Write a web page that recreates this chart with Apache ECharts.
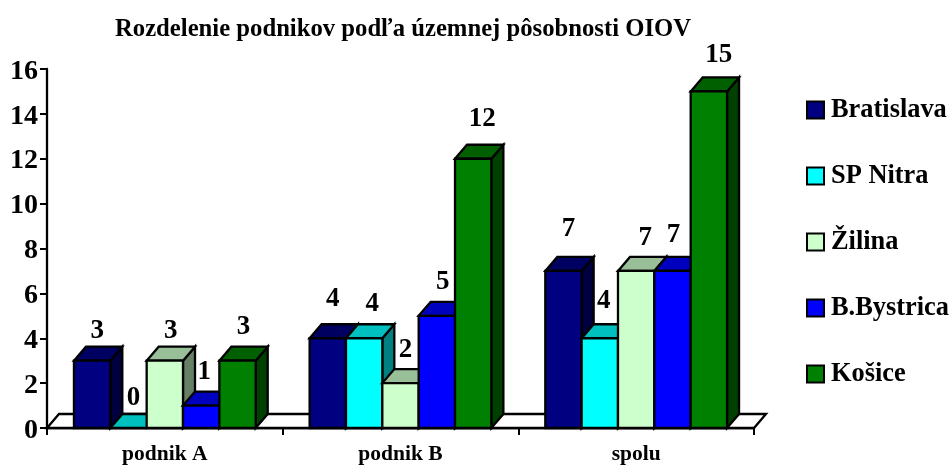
<!DOCTYPE html>
<html>
<head>
<meta charset="utf-8">
<style>html,body{margin:0;padding:0;background:#fff}#c{width:952px;height:465px}</style>
<script src="https://cdn.jsdelivr.net/npm/echarts@6/dist/echarts.min.js"></script>
</head>
<body>
<div id="c"></div>
<script>
const categories = ['podnik A', 'podnik B', 'spolu'];
const seriesNames = ['Bratislava', 'SP Nitra', 'Žilina', 'B.Bystrica', 'Košice'];
const bratislava = [3, 4, 7];
const spNitra = [0, 4, 4];
const zilina = [3, 2, 7];
const bBystrica = [1, 5, 7];
const kosice = [3, 12, 15];
const yTicks = { min: 0, max: 16, interval: 2 };

// styling, kept apart from the data
const colors = ['#000080', '#00ffff', '#ccffcc', '#0000ff', '#008000'];
const depth = [12, -14];
const barShare = 36.4 / 236;
const font = 'Liberation Serif';
// hand-placed value labels of the original: [dx, dy] from the centre of each bar's top edge
const labelNudges = [
  [[5, -30], [5, -39], [5, -42]],
  [[5, -30], [8, -34], [4, -37]],
  [[6, -30], [5, -33], [9, -33]],
  [[3, -34], [6, -34], [1, -36]],
  [[6, -34], [9, -40], [10, -36]]
];

const allValues = [bratislava, spNitra, zilina, bBystrica, kosice];

function shade(hex, f) {
  const n = parseInt(hex.slice(1), 16);
  const c = [n >> 16, (n >> 8) & 255, n & 255].map(v => Math.round(v * f));
  return 'rgb(' + c.join(',') + ')';
}

const line = { stroke: '#000', lineWidth: 2.3, lineJoin: 'miter' };

function barRenderer(sIdx) {
  return function (params, api) {
    const cat = api.value(0), val = api.value(1);
    const top = api.coord([cat, val]);
    const base = api.coord([cat, 0]);
    const band = api.size([1, 0])[0];
    const w = band * barShare;
    const x0 = top[0] + (sIdx - 2.5) * w;
    const x1 = x0 + w;
    const yT = top[1], yB = base[1];
    const dx = depth[0], dy = depth[1];
    const col = colors[sIdx];
    const nudge = labelNudges[sIdx][cat];
    const children = [];
    if (val > 0) {
      children.push({
        type: 'polygon',
        shape: { points: [[x1, yT], [x1 + dx, yT + dy], [x1 + dx, yB + dy], [x1, yB]] },
        style: Object.assign({ fill: shade(col, 0.5) }, line)
      });
    }
    children.push({
      type: 'polygon',
      shape: { points: [[x0, yT], [x0 + dx, yT + dy], [x1 + dx, yT + dy], [x1, yT]] },
      style: Object.assign({ fill: shade(col, 0.75) }, line)
    });
    if (val > 0) {
      children.push({
        type: 'rect',
        shape: { x: x0, y: yT, width: w, height: yB - yT },
        style: Object.assign({ fill: col }, line)
      });
    }
    children.push({
      type: 'text',
      z2: 50,
      style: {
        text: String(val),
        x: (x0 + x1) / 2 + nudge[0],
        y: yT + nudge[1],
        align: 'center',
        verticalAlign: 'middle',
        fill: '#000',
        font: 'bold 27px "' + font + '"'
      }
    });
    return { type: 'group', children };
  };
}

function floorRenderer(params, api) {
  const first = api.coord([0, 0]);
  const last = api.coord([categories.length - 1, 0]);
  const half = api.size([1, 0])[0] / 2;
  const a = [first[0] - half, first[1]];
  const b = [last[0] + half, last[1]];
  return {
    type: 'polygon',
    shape: { points: [a, [a[0] + depth[0], a[1] + depth[1]], [b[0] + depth[0], b[1] + depth[1]], b] },
    style: Object.assign({ fill: '#fff' }, line)
  };
}

const series = [{
  type: 'custom',
  name: 'floor',
  silent: true,
  z: 1,
  clip: false,
  renderItem: floorRenderer,
  data: [[0, 0]],
  encode: { x: 0, y: 1 }
}];
seriesNames.forEach((name, s) => {
  series.push({
    type: 'custom',
    name,
    z: 2 + s,
    clip: false,
    renderItem: barRenderer(s),
    itemStyle: { color: colors[s], borderColor: '#000', borderWidth: 2.5 },
    data: allValues[s].map((v, i) => [i, v]),
    encode: { x: 0, y: 1 }
  });
});

const chart = echarts.init(document.getElementById('c'), null, { renderer: 'canvas' });
chart.setOption({
  animation: false,
  backgroundColor: '#fff',
  title: {
    text: 'Rozdelenie podnikov podľa územnej pôsobnosti OIOV',
    left: 398,
    top: 12,
    textAlign: 'center',
    textStyle: { fontFamily: font, fontWeight: 'bold', fontSize: 24.7, color: '#000' }
  },
  grid: { left: 47, right: 198, top: 69, bottom: 37, containLabel: false },
  xAxis: {
    type: 'category',
    data: categories,
    boundaryGap: true,
    axisLine: { lineStyle: { color: '#000', width: 2.3 } },
    axisTick: { show: true, alignWithLabel: false, length: 7, lineStyle: { color: '#000', width: 2 } },
    axisLabel: { fontFamily: font, fontWeight: 'bold', fontSize: 21.5, color: '#000', margin: 15 },
    splitLine: { show: false }
  },
  yAxis: {
    type: 'value',
    min: yTicks.min,
    max: yTicks.max,
    interval: yTicks.interval,
    axisLine: { show: true, lineStyle: { color: '#000', width: 2.3 } },
    axisTick: { show: true, length: 7, lineStyle: { color: '#000', width: 2 } },
    axisLabel: {
      margin: 9,
      formatter: '{n|{value}}',
      rich: { n: { fontFamily: font, fontWeight: 'bold', fontSize: 28, color: '#000', padding: [5, 0, 0, 0] } }
    },
    splitLine: { show: false }
  },
  legend: {
    orient: 'vertical',
    left: 801,
    top: 92,
    data: seriesNames,
    icon: 'rect',
    itemWidth: 17,
    itemHeight: 17,
    itemGap: 40,
    selectedMode: false,
    textStyle: { fontFamily: font, fontWeight: 'bold', fontSize: 26.4, color: '#000', padding: [0, 0, 0, 2] }
  },
  series
});
</script>
</body>
</html>
